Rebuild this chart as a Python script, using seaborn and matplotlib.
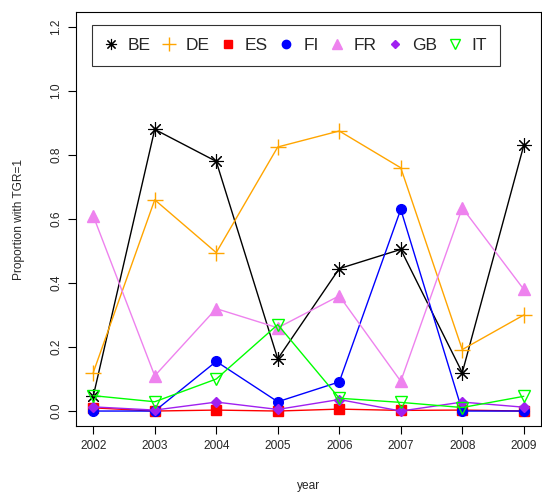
import matplotlib
matplotlib.use("Agg")
import matplotlib.pyplot as plt
import seaborn as sns
import pandas as pd
from matplotlib.lines import Line2D

years = [2002, 2003, 2004, 2005, 2006, 2007, 2008, 2009]
countries = ["BE", "DE", "ES", "FI", "FR", "GB", "IT"]
BE = [0.046, 0.88, 0.78, 0.163, 0.445, 0.505, 0.12, 0.83]
DE = [0.12, 0.66, 0.495, 0.825, 0.875, 0.76, 0.192, 0.30]
ES = [0.010, 0.000, 0.003, 0.000, 0.006, 0.002, 0.003, 0.000]
FI = [0.000, 0.000, 0.155, 0.029, 0.091, 0.63, 0.000, 0.000]
FR = [0.61, 0.11, 0.32, 0.26, 0.36, 0.093, 0.635, 0.38]
GB = [0.013, 0.003, 0.028, 0.005, 0.036, 0.000, 0.028, 0.012]
IT = [0.048, 0.029, 0.10, 0.27, 0.040, 0.027, 0.011, 0.046]
series = [BE, DE, ES, FI, FR, GB, IT]

colors = ["black", "orange", "red", "blue", "violet", "#A020F0", "#00FF00"]
markers = [(8, 2, 0), "+", "s", "o", "^", "D", "v"]
msizes = [10.5, 12, 7, 7, 8, 5.5, 9]
legsizes = [8, 10, 6, 6, 7, 4.5, 7.5]
mews = [0.8, 1.0, 1.0, 1.0, 1.0, 1.0, 1.0]
filled = [True, True, True, True, True, True, False]

sns.set_style("white")
plt.rcParams["font.family"] = ["Liberation Sans", "DejaVu Sans"]

fig = plt.figure(figsize=(5.42, 4.93), dpi=100)
ax = fig.add_axes([76/542, 1-426.4/493, (541-76)/542, (426.4-11.6)/493])

rows = []
for c, vals in zip(countries, series):
    for y, v in zip(years, vals):
        rows.append({"year": y, "value": v, "country": c})
df = pd.DataFrame(rows)

for c, col, m, ms, f, mw in zip(countries, colors, markers, msizes, filled, mews):
    sub = df[df["country"] == c]
    sns.lineplot(data=sub, x="year", y="value", ax=ax, color=col, marker=m,
                 markersize=ms, mec=col, mfc=col if f else "none",
                 mew=mw, lw=1.0, estimator=None)

ax.set_xlim(2001.72, 2009.28)
ax.set_ylim(-0.048, 1.248)
ax.set_xticks(years)
ax.set_xticklabels([str(y) for y in years], fontsize=8.6)
ax.set_yticks([0.0, 0.2, 0.4, 0.6, 0.8, 1.0, 1.2])
ax.set_yticklabels(["0.0", "0.2", "0.4", "0.6", "0.8", "1.0", "1.2"],
                   fontsize=8.6, rotation=90, va="center")
ax.tick_params(axis="both", direction="out", length=6, width=0.8,
               color="black", bottom=True, left=True, pad=4)
for s in ax.spines.values():
    s.set_color("black")
    s.set_linewidth(0.8)
ax.set_xlabel("year", fontsize=8.6, labelpad=20)
ax.set_ylabel("Proportion with TGR=1", fontsize=8.6, labelpad=18)
ax.grid(False)

handles = [Line2D([], [], ls="none", color=col, marker=m,
                  markersize=ms, mec=col, mfc=col if f else "none", mew=mw)
           for col, m, ms, f, mw in zip(colors, markers, legsizes, filled, mews)]
leg = fig.legend(handles, countries, ncol=7, loc="upper left",
                 bbox_to_anchor=(92/542, 1-25/493), fontsize=12.5,
                 frameon=True, fancybox=False, edgecolor="black",
                 handlelength=0.7, handletextpad=0.62, columnspacing=0.7,
                 borderpad=0.75, borderaxespad=0)
leg.get_frame().set_linewidth(0.8)

fig.savefig("out.png", dpi=100)
